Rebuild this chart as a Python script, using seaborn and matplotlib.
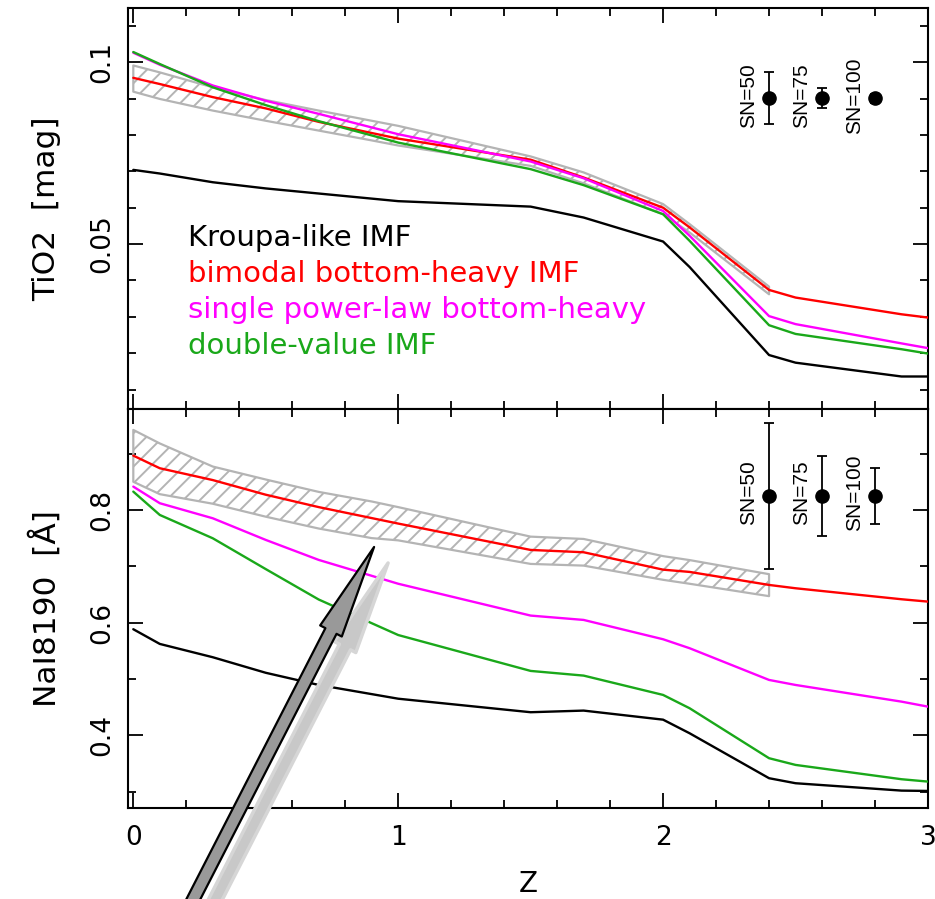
import numpy as np
import pandas as pd
import matplotlib
matplotlib.use("Agg")
import matplotlib.pyplot as plt
import seaborn as sns
from matplotlib.patches import FancyArrowPatch, ArrowStyle
from matplotlib.transforms import offset_copy
from matplotlib.ticker import MultipleLocator, FixedLocator

# ---------------- data ----------------
z = [0, 0.1, 0.3, 0.5, 0.7, 1.0, 1.5, 1.7, 2.0, 2.1, 2.4, 2.5, 2.9, 3.0]

tio2_kroupa = [0.0704, 0.0694, 0.0670, 0.0653, 0.0639, 0.0618, 0.0603, 0.0573, 0.0507, 0.0437, 0.0195, 0.0174, 0.0136, 0.0136]
tio2_bimodal = [0.0957, 0.0940, 0.0904, 0.0873, 0.0836, 0.0790, 0.0732, 0.0683, 0.0600, 0.0546, 0.0374, 0.0353, 0.0307, 0.0298]
tio2_single = [0.1026, 0.0993, 0.0936, 0.0894, 0.0858, 0.0802, 0.0727, 0.0681, 0.0591, 0.0523, 0.0302, 0.0280, 0.0227, 0.0214]
tio2_double = [0.1028, 0.0995, 0.0931, 0.0882, 0.0838, 0.0779, 0.0706, 0.0662, 0.0582, 0.0509, 0.0277, 0.0253, 0.0211, 0.0199]

nai_kroupa = [0.5883, 0.5622, 0.5386, 0.5110, 0.4894, 0.4650, 0.4410, 0.4439, 0.4278, 0.4037, 0.3239, 0.3150, 0.3019, 0.3013]
nai_bimodal = [0.8964, 0.8740, 0.8530, 0.8270, 0.8050, 0.7758, 0.7290, 0.7249, 0.6940, 0.6900, 0.6669, 0.6610, 0.6415, 0.6373]
nai_single = [0.8414, 0.8119, 0.7852, 0.7468, 0.7113, 0.6690, 0.6125, 0.6048, 0.5705, 0.5546, 0.4983, 0.4894, 0.4598, 0.4509]
nai_double = [0.8325, 0.7911, 0.7497, 0.6950, 0.6410, 0.5780, 0.5143, 0.5060, 0.4717, 0.4481, 0.3594, 0.3475, 0.3221, 0.3179]

z_band = [0, 0.1, 0.3, 0.5, 0.7, 0.9, 1.0, 1.5, 1.7, 2.0, 2.1, 2.4]
tio2_band_hi = [0.0991, 0.0972, 0.0931, 0.0896, 0.0867, 0.0839, 0.0825, 0.0741, 0.0697, 0.0610, 0.0555, 0.0383]
tio2_band_lo = [0.0919, 0.0899, 0.0867, 0.0839, 0.0812, 0.0785, 0.0771, 0.0715, 0.0667, 0.0582, 0.0532, 0.0362]
nai_band_hi = [0.942, 0.918, 0.877, 0.854, 0.832, 0.815, 0.805, 0.7526, 0.7485, 0.718, 0.711, 0.686]
nai_band_lo = [0.850, 0.828, 0.811, 0.788, 0.767, 0.750, 0.746, 0.7042, 0.7012, 0.676, 0.669, 0.647]

sn_z = [2.4, 2.6, 2.8]
sn_labels = ["SN=50", "SN=75", "SN=100"]
tio2_sn_y = [0.0901, 0.0901, 0.0901]
tio2_sn_err = [0.0071, 0.0028, 0.0012]
nai_sn_y = [0.825, 0.825, 0.825]
nai_sn_err = [0.130, 0.0705, 0.050]

legend_labels = ["Kroupa-like IMF", "bimodal bottom-heavy IMF",
                 "single power-law bottom-heavy", "double-value IMF"]
colors = ["black", "#ff0000", "#ff00ff", "#1aa81a"]

# ---------------- style ----------------
sns.set_style("ticks")
plt.rcParams["font.family"] = ["DejaVu Sans"]
plt.rcParams["text.color"] = "black"
plt.rcParams["axes.labelcolor"] = "black"
plt.rcParams["xtick.color"] = "black"
plt.rcParams["ytick.color"] = "black"
plt.rcParams["xtick.labelcolor"] = "black"
plt.rcParams["ytick.labelcolor"] = "black"
plt.rcParams["hatch.linewidth"] = 1.4
plt.rcParams["hatch.color"] = "#aaaaaa"

fig = plt.figure(figsize=(9.35, 8.99), dpi=100)
ax1 = fig.add_axes([0.1369, 0.5456, 0.8556, 0.4455])
ax2 = fig.add_axes([0.1369, 0.1012, 0.8556, 0.4444])

top_series = [tio2_kroupa, tio2_bimodal, tio2_single, tio2_double]
bot_series = [nai_kroupa, nai_bimodal, nai_single, nai_double]

for ax, series, bhi, blo, sy, serr in [
        (ax1, top_series, tio2_band_hi, tio2_band_lo, tio2_sn_y, tio2_sn_err),
        (ax2, bot_series, nai_band_hi, nai_band_lo, nai_sn_y, nai_sn_err)]:
    ax.fill_between(z_band, blo, bhi, facecolor="none", edgecolor="#b4b4b4",
                    hatch="//", linewidth=1.6, zorder=1)
    for s, c in zip(series, colors):
        sns.lineplot(x=z, y=s, ax=ax, color=c, linewidth=1.7, sort=False, zorder=3)
    ax.errorbar(sn_z, sy, yerr=serr, fmt="o", color="black", markersize=9.5,
                capsize=3.3, elinewidth=1.3, capthick=1.3, zorder=4)
    for xv, yv, lab in zip(sn_z, sy, sn_labels):
        ax.annotate(lab, xy=(xv, yv), xytext=(-14.5, 2), textcoords="offset points",
                    rotation=90, ha="center", va="center", fontsize=15,
                    color="black", family=["Liberation Sans", "DejaVu Sans"])
    ax.set_xlim(-0.02, 3.0)
    ax.xaxis.set_major_locator(MultipleLocator(1))
    ax.xaxis.set_minor_locator(MultipleLocator(0.2))
    ax.tick_params(which="both", direction="in", top=True, right=True,
                   width=1.3, color="black", labelcolor="black")
    ax.tick_params(which="major", length=11, labelsize=19)
    ax.tick_params(which="minor", length=6)
    ax.tick_params(axis="y", which="major", pad=9, labelrotation=90)
    ax.tick_params(axis="x", which="major", pad=12)
    for sp in ax.spines.values():
        sp.set_visible(True)
        sp.set_linewidth(1.5)
        sp.set_color("black")

ax1.set_ylim(0.0048, 0.1149)
ax1.yaxis.set_major_locator(FixedLocator([0.05, 0.1]))
ax1.yaxis.set_minor_locator(MultipleLocator(0.01))
ax1.set_yticklabels(["0.05", "0.1"])
ax1.tick_params(axis="x", labelbottom=False)
ax1.set_xlabel("")
ax1.set_ylabel("TiO2  [mag]", fontsize=22.5, color="black")

ax2.set_ylim(0.271, 0.980)
ax2.yaxis.set_major_locator(FixedLocator([0.4, 0.6, 0.8]))
ax2.yaxis.set_minor_locator(MultipleLocator(0.1))
ax2.set_yticklabels(["0.4", "0.6", "0.8"])
ax2.set_xticks([0, 1, 2, 3])
ax2.set_xticklabels(["0", "1", "2", "3"])
ax2.set_ylabel("NaI8190  [Å]", fontsize=22.5, color="black")
ax2.set_xlabel("Z", fontsize=20, labelpad=14, color="black")

for ax in (ax1, ax2):
    for lab in ax.get_yticklabels():
        lab.set_va("center")
    ax.yaxis.set_label_coords(-0.083, 0.5)

# legend as coloured text
for i, (lab, c) in enumerate(zip(legend_labels, colors)):
    ax1.text(0.075, 0.4065 - i * 0.0898, lab, color=c, fontsize=21,
             transform=ax1.transAxes, ha="left", va="baseline")

# big annotation arrow with shadow
tail = (0.109, 0.0014)
tip = (0.909, 0.7343)
style = ArrowStyle.Simple(head_length=68, head_width=17.5, tail_width=9)
shadow_tr = offset_copy(ax2.transData, fig=fig, x=14, y=-16, units="dots")
shadow = FancyArrowPatch(tail, tip, arrowstyle=style, mutation_scale=1,
                         transform=shadow_tr, facecolor="#c8c8c8",
                         edgecolor="#d6d6d6", linewidth=2.5, clip_on=False,
                         shrinkA=0, shrinkB=0, zorder=8)
ax2.add_patch(shadow)
arrow = FancyArrowPatch(tail, tip, arrowstyle=style, mutation_scale=1,
                        transform=ax2.transData, facecolor="#999999",
                        edgecolor="black", linewidth=1.6, clip_on=False,
                        shrinkA=0, shrinkB=0, zorder=9)
ax2.add_patch(arrow)

fig.savefig("out.png", dpi=100)
